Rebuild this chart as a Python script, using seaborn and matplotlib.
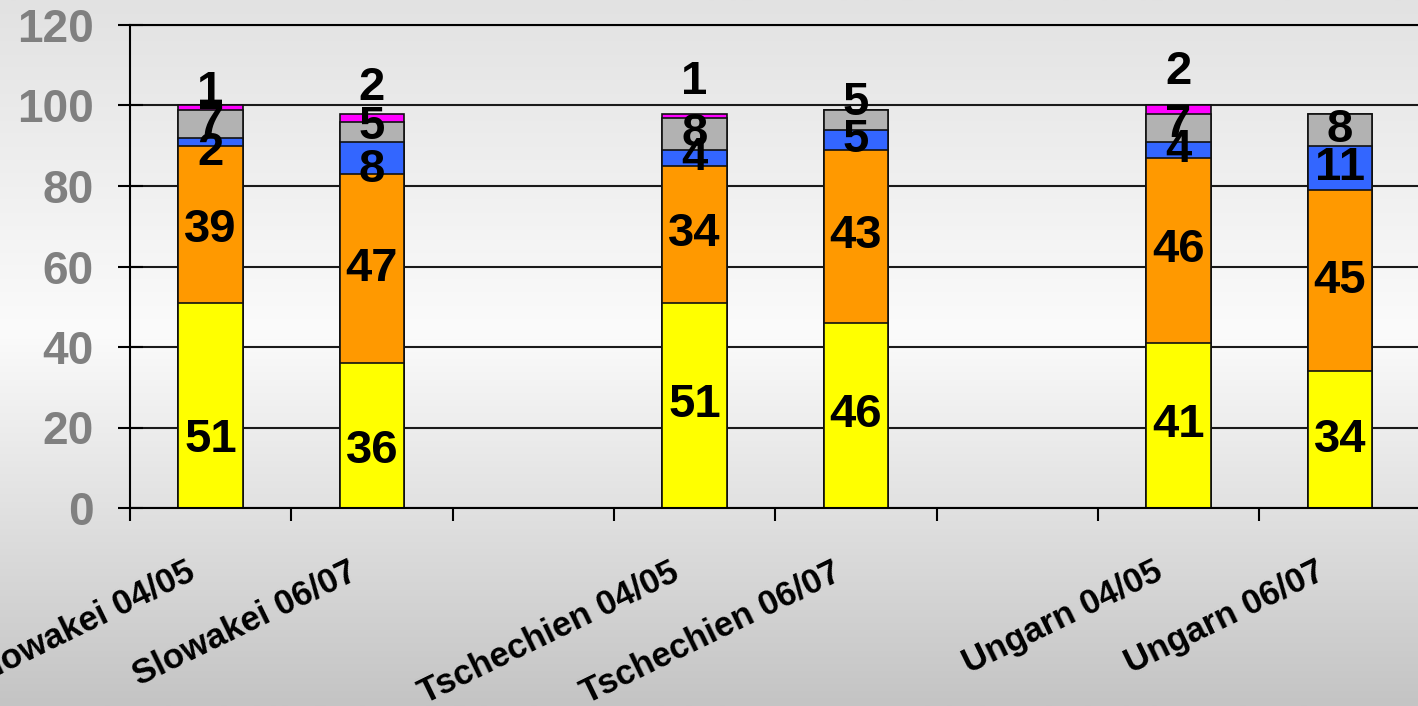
import numpy as np
import seaborn as sns
import matplotlib.pyplot as plt
from matplotlib.colors import LinearSegmentedColormap
from matplotlib.transforms import ScaledTranslation

# slots on the x axis (blank slots separate the countries)
categories = ["Slowakei 04/05", "Slowakei 06/07", " ",
              "Tschechien 04/05", "Tschechien 06/07", "  ",
              "Ungarn 04/05", "Ungarn 06/07"]
groups = ["Slowakei 04/05", "Slowakei 06/07", "Tschechien 04/05",
          "Tschechien 06/07", "Ungarn 04/05", "Ungarn 06/07"]
yellow = [51, 36, 51, 46, 41, 34]
orange = [39, 47, 34, 43, 46, 45]
blue = [2, 8, 4, 5, 4, 11]
gray = [7, 5, 8, 5, 7, 8]
magenta = [1, 2, 1, 0, 2, 0]
y_ticks = [0, 20, 40, 60, 80, 100, 120]

layers = [yellow, orange, blue, gray, magenta]
colors = ["#ffff00", "#ff9900", "#3366ff", "#b2b2b2", "#ff00ff"]

# vertical nudges (points) of crowded value labels: (group, layer) -> dy
nudges = {(0, 0): -25, (0, 1): -4, (0, 2): -8, (0, 4): 11,
          (1, 0): -11, (1, 2): -9, (1, 3): 3, (1, 4): 21,
          (2, 4): 24, (3, 3): 12, (4, 3): 2, (4, 4): 27}

sns.set_theme(style="white")
plt.rcParams["font.family"] = ["Liberation Sans", "DejaVu Sans"]
plt.rcParams["font.weight"] = "bold"

fig = plt.figure(figsize=(14.18, 7.06), dpi=100)

# gradient background of the slide
bg = fig.add_axes([0, 0, 1, 1], zorder=-5)
cmap = LinearSegmentedColormap.from_list(
    "bg", [(0.0, "#e2e2e2"), (0.47, "#fbfbfb"), (1.0, "#c4c4c4")])
bg.imshow(np.linspace(0, 1, 256).reshape(-1, 1), aspect="auto", cmap=cmap,
          extent=[0, 1, 0, 1], origin="upper")
bg.set_axis_off()

ax = fig.add_axes([130 / 1418, 198 / 706, 1290.6 / 1418, 483 / 706])
ax.set_facecolor("none")

cum = np.cumsum(np.array(layers), axis=0)
for k in range(len(layers) - 1, -1, -1):
    sns.barplot(x=groups, y=cum[k], order=categories, color=colors[k],
                saturation=1, width=0.4, edgecolor="#111111", linewidth=1.2,
                ax=ax)

# value labels centred in each segment
for k, layer in enumerate(layers):
    bottoms = cum[k] - np.array(layer)
    for g, v in enumerate(layer):
        if v == 0:
            continue
        pos = categories.index(groups[g])
        ax.annotate(str(v), xy=(pos, bottoms[g] + v / 2),
                    xytext=(0, nudges.get((g, k), 0)), textcoords="offset points",
                    ha="center", va="center", fontsize=34, fontweight="bold",
                    color="black", zorder=5)

ax.set_xlim(-0.5, 7.5)
ax.set_ylim(0, 120)
ax.set_yticks(y_ticks)
ax.set_yticklabels([str(t) for t in y_ticks])
ax.set_xlabel("")
ax.set_ylabel("")

ax.set_xticks(np.arange(-0.5, 7.6, 1))
ax.set_xticklabels([])
ax.set_xticks(range(len(categories)), minor=True)
ax.set_xticklabels(categories, minor=True, rotation=26, ha="right",
                   rotation_mode="anchor", fontsize=25, fontweight="bold",
                   color="black")
ax.tick_params(axis="x", which="major", direction="out", length=9,
               width=1.5, color="black", bottom=True)
ax.tick_params(axis="x", which="minor", length=0, pad=34, labelcolor="black")
ax.tick_params(axis="y", direction="inout", length=18, width=1.5,
               color="black", left=True, pad=17, labelsize=33,
               labelcolor="#808080")
for lab in ax.get_yticklabels():
    lab.set_fontweight("bold")
shift = ScaledTranslation(-18 / 72, 0, fig.dpi_scale_trans)
for lab in ax.get_xticklabels(minor=True):
    lab.set_transform(lab.get_transform() + shift)

ax.yaxis.grid(True, color="#1a1a1a", linewidth=1.5)
ax.set_axisbelow(True)
for side in ["left", "bottom", "top"]:
    ax.spines[side].set_visible(True)
    ax.spines[side].set_color("black")
    ax.spines[side].set_linewidth(1.5)
ax.spines["right"].set_visible(False)

fig.savefig("out.png", dpi=100)
plt.close(fig)
